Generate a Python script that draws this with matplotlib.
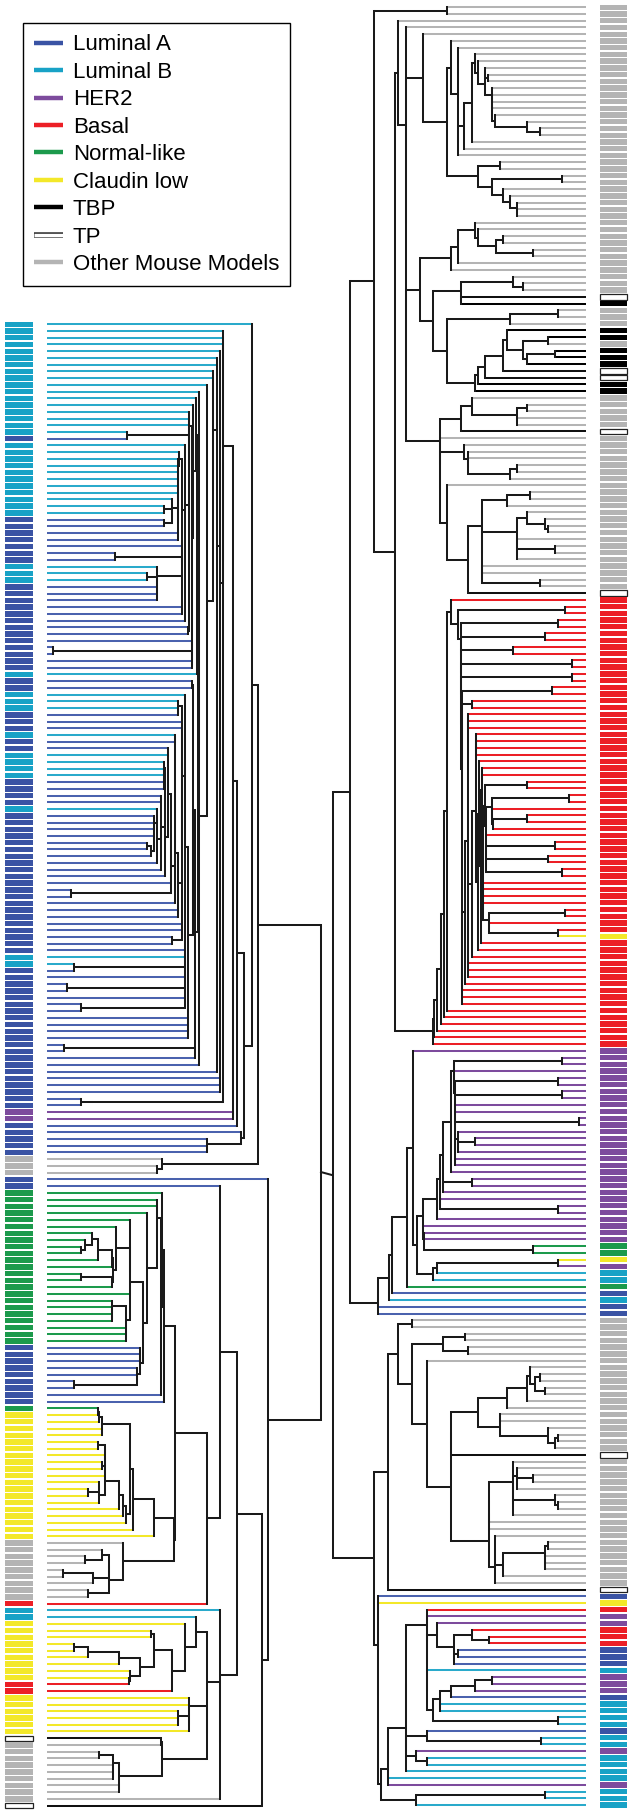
import matplotlib
matplotlib.use('Agg')
import matplotlib.pyplot as plt
from matplotlib.lines import Line2D
from matplotlib.patches import Rectangle
import matplotlib.patheffects as pe

plt.rcParams['font.family'] = ['Liberation Sans', 'DejaVu Sans']

# subtype colours
colors = {'A': '#3a53a4', 'B': '#18a2c6', 'H': '#7d4b9d', 'R': '#ec1f26',
          'N': '#1c9a4c', 'C': '#f3e829', 'K': '#000000', 'T': '#ffffff',
          'O': '#b4b4b4'}
line_colors = dict(colors, T='#111111', A='#4a62ae', B='#2aaacb')
legend_items = [('A', 'Luminal A'), ('B', 'Luminal B'), ('H', 'HER2'),
                ('R', 'Basal'), ('N', 'Normal-like'), ('C', 'Claudin low'),
                ('K', 'TBP'), ('T', 'TP'), ('O', 'Other Mouse Models')]

# leaf subtypes, top to bottom (run lengths)
left_runs = [('B', 17), ('A', 1), ('B', 11), ('A', 7), ('B', 3), ('A', 13), ('B', 1),
             ('A', 2), ('B', 3), ('A', 3), ('B', 1), ('A', 2), ('B', 4), ('A', 4),
             ('B', 1), ('A', 21), ('B', 2), ('A', 21), ('H', 2), ('A', 5), ('O', 3),
             ('A', 2), ('N', 23), ('A', 9), ('N', 1), ('C', 19), ('O', 9), ('R', 1),
             ('B', 2), ('C', 9), ('R', 2), ('C', 6), ('T', 1), ('O', 9), ('T', 1)]
right_runs = [('O', 43), ('T', 1), ('K', 1), ('O', 3), ('K', 2), ('O', 1), ('K', 3),
              ('T', 2), ('K', 2), ('O', 5), ('T', 1), ('O', 23), ('T', 1), ('R', 50),
              ('C', 1), ('R', 16), ('H', 29), ('N', 2), ('C', 1), ('H', 1), ('B', 2),
              ('N', 1), ('A', 1), ('B', 1), ('A', 2), ('O', 20), ('T', 1), ('O', 19),
              ('T', 1), ('A', 1), ('C', 1), ('R', 1), ('H', 2), ('R', 3), ('A', 3),
              ('B', 1), ('H', 3), ('A', 1), ('B', 4), ('A', 1), ('B', 2), ('H', 1),
              ('B', 4), ('H', 1), ('B', 3)]

# merge height between neighbouring leaves (dendrogram distance)
left_gaps = [
    204.7, 176.4, 176.3, 176.2, 173, 170, 169.9, 166, 165.9, 160,
    152, 149, 146, 142.3, 142.2, 142.1, 80, 142, 138, 131.5,
    131.4, 131.4, 131.4, 131.4, 131.4, 131.3, 125, 117, 124.8, 117,
    131.2, 131.1, 135, 134.9, 68, 134.8, 110, 100, 109.9, 109.8,
    109.7, 134.7, 134.6, 138, 141.5, 141.4, 145, 144.9, 6, 144.8,
    144.7, 150, 150.5, 144.6, 145.5, 138, 131.3, 131.2, 135, 134.9,
    134.8, 128, 128.1, 121, 121.2, 117.3, 117.2, 117.1, 117, 117.5,
    114, 114.2, 110, 107, 106.9, 106.8, 106.7, 100, 104, 110.3,
    114.1, 117.6, 124, 124.1, 24, 128.2, 131.3, 131.2, 135, 134.9,
    134.8, 125, 138.3, 138.2, 138.1, 27, 138, 137.9, 20, 137.8,
    137.7, 34, 141.3, 141.2, 141.1, 141, 148.1, 17, 148, 152.3,
    170, 173, 172.9, 172.8, 176.3, 34, 186.3, 186, 190, 197,
    194, 160, 159.9, 211, 115, 110, 274, 221, 173, 115,
    110, 109.9, 100, 83, 69, 45, 38, 34, 51, 65,
    65.5, 34, 65.4, 83, 83.1, 65, 64.9, 64.8, 79, 78.9,
    78.8, 96, 93, 92.9, 93.1, 90, 89.9, 27, 114, 117,
    128, 51, 52, 55, 55, 83, 51, 58, 58.1, 55,
    58.2, 58.3, 52, 41, 52.1, 72, 76, 79, 86, 107,
    127, 76, 55, 38, 62, 16, 46, 62.1, 41, 160,
    190, 173, 148.7, 138, 103.7, 107, 27, 40.7, 72.3, 93,
    83, 82, 124.7, 160, 142, 141.9, 131, 130.9, 141.8, 159.9,
    114, 115, 52, 66, 65.9, 65.8, 72, 71.9, 172.9, 215]
right_gaps = [
    139.3, 211.7, 187.7, 180.3, 162.7, 135, 128.3, 111, 107.7, 101,
    97.7, 101.1, 94.3, 94.2, 94.1, 94, 91, 59.3, 46, 114.3,
    121.7, 128.2, 139.3, 86, 107.7, 24.3, 94.3, 82.7, 76, 69.3,
    69.2, 180.2, 111, 107.7, 83, 90, 52.7, 128.3, 135, 166,
    72.7, 62.7, 125, 124.9, 152.7, 27.7, 76, 139.3, 79.3, 37.7,
    62.7, 31, 59.3, 83, 101, 107.7, 111, 180.1, 114.3, 59.3,
    69.3, 69.2, 125, 146, 145.9, 121.7, 117.8, 117.7, 69.3, 76,
    145.8, 139.3, 56, 79.3, 104.3, 59.3, 41, 37.7, 69.3, 69.2,
    31, 69.1, 104.2, 104.1, 104, 46, 117.7, 191, 135, 21,
    128.3, 27.7, 125, 41, 124.9, 72.7, 124.8, 13.7, 124.7, 13.7,
    124.6, 34.3, 124.5, 114.3, 124.4, 117.7, 117.6, 118.5, 110, 109.9,
    109.8, 110.1, 106.7, 103.7, 103.6, 59.3, 101, 17, 93.7, 93.6,
    59.3, 93.5, 100.4, 100.3, 31, 100.2, 37.7, 100.1, 24.3, 103.5,
    103.4, 103.3, 103.2, 103.1, 21, 97, 96.9, 27.7, 104.7, 107.7,
    114.3, 117.7, 117.8, 117.9, 121, 124.3, 124.35, 124.38, 139.3, 142,
    145.3, 148.7, 152, 152.7, 236, 172.7, 24.3, 131.7, 131.6, 27.7,
    131.5, 24.3, 131.4, 131.3, 131.2, 6.7, 131.1, 128.3, 111, 128.2,
    131.0, 130.9, 135, 142.7, 114.3, 142.6, 146.1, 146, 27.7, 149.3,
    162.7, 162.6, 162.5, 162.4, 52.7, 169.3, 27.7, 149.3, 152.7, 179.3,
    194.3, 197, 207.6, 207.7, 253.3, 174.3, 187.7, 121, 142.7, 118.3,
    174.2, 159.3, 56, 46, 51, 41, 59.3, 79.3, 107.7, 86,
    86.5, 37.7, 27.7, 31, 135, 135.1, 72.7, 69.3, 52.7, 69.2,
    72.6, 31, 27.7, 72.65, 97, 97.1, 97.2, 91, 37.7, 41,
    40.9, 40.8, 83, 91.1, 197.7, 212, 208.3, 208.2, 159.3, 159.2,
    149.3, 114.3, 97, 131.7, 128.3, 131.6, 159.1, 159.0, 93.7, 111,
    135, 146, 145.9, 152.7, 27.7, 180.2, 159.3, 45, 180.1, 170,
    159.3, 180.3, 197.7, 197.8, 205, 41, 170]


def expand(runs):
    out = []
    for c, n in runs:
        out += [c] * n
    return out


left_codes = expand(left_runs)
right_codes = expand(right_runs)

# layout (pixels)
W, H = 633, 1814
STEP = 6.733
INK = '#1a1a1a'
LW = 1.45

fig = plt.figure(figsize=(W / 100, H / 100), dpi=100)
ax = fig.add_axes([0, 0, 1, 1])
ax.set_xlim(0, W)
ax.set_ylim(H, 0)
ax.axis('off')


def draw_tree(codes, gaps, y0, base, sign):
    ys = [y0 + STEP * i for i in range(len(codes))]

    def xp(h):
        return base + sign * h

    def build(lo, hi):
        if lo == hi:
            return 0.0, ys[lo], codes[lo]
        k = max(range(lo, hi), key=lambda t: gaps[t])
        h = gaps[k]
        kids = [build(lo, k), build(k + 1, hi)]
        for ch, cy, leaf in kids:
            col = INK if leaf is None else line_colors[leaf]
            z = 2 if leaf is None else 1
            ax.plot([xp(ch), xp(h)], [cy, cy], color=col, lw=LW,
                    solid_capstyle='butt', zorder=z)
        ax.plot([xp(h), xp(h)], [kids[0][1], kids[1][1]], color=INK, lw=LW,
                solid_capstyle='projecting', zorder=3)
        return h, (kids[0][1] + kids[1][1]) / 2, None

    h, y, _ = build(0, len(codes) - 1)
    return xp(h), y, ys


def draw_bar(codes, ys, x0, width):
    for c, y in zip(codes, ys):
        ax.add_patch(Rectangle((x0, y - 2.7), width, 5.4, facecolor=colors[c],
                               edgecolor='#222222' if c == 'T' else 'none',
                               lw=0.9, zorder=2))


lx, ly, lys = draw_tree(left_codes, left_gaps, 324.3, 47, 1)
rx, ry, rys = draw_tree(right_codes, right_gaps, 7.3, 586, -1)
ax.plot([lx, rx], [ly, ry], color=INK, lw=LW, zorder=3)

draw_bar(left_codes, lys, 5, 28)
draw_bar(right_codes, rys, 600, 27)

handles = []
for c, name in legend_items:
    if c == 'T':
        handles.append(Line2D([0], [0], color='white', lw=2.4, solid_capstyle='butt',
                              path_effects=[pe.Stroke(linewidth=4.0, foreground='#333333'),
                                            pe.Normal()]))
    else:
        handles.append(Line2D([0], [0], color=colors[c], lw=3.2, solid_capstyle='butt'))
leg = ax.legend(handles, [n for _, n in legend_items], loc='upper left',
                bbox_to_anchor=(22.7 / W, 1 - 23.3 / H), bbox_transform=ax.transAxes,
                fontsize=16, frameon=True, fancybox=False, edgecolor='black',
                framealpha=1, borderaxespad=0, handlelength=1.3,
                handletextpad=0.45, labelspacing=0.29, borderpad=0.5)
leg.get_frame().set_linewidth(1.0)

fig.savefig('out.png', dpi=100)
